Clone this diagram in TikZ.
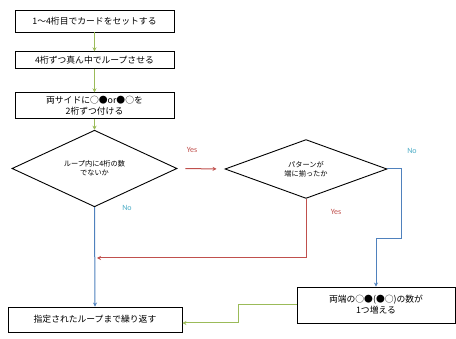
\documentclass[tikz,border=0pt]{standalone}
\usepackage{fontspec}
\setmainfont{Carlito}
\newfontfamily\jp{Noto Sans CJK JP}
\usetikzlibrary{shapes.geometric,arrows.meta}
\definecolor{lgreen}{HTML}{9BBB59}
\definecolor{lred}{HTML}{C0504D}
\definecolor{lblue}{HTML}{4F81BD}
\definecolor{nob}{HTML}{4BACC6}
\tikzset{
  procbox/.style={draw=black, line width=0.9pt, fill=white, rectangle, inner sep=1pt, align=center, font=\jp\fontsize{8.8}{11}\selectfont},
  decbox/.style={draw=black, line width=0.9pt, fill=white, diamond, inner sep=0pt, align=center, font=\jp\fontsize{7.2}{9}\selectfont},
  conn/.style={line width=1pt, -{Stealth[length=4pt,width=4pt]}},
  lbl/.style={font=\fontsize{8}{9}\selectfont, inner sep=0pt}
}
\begin{document}
\begin{tikzpicture}[x=1pt,y=-1pt]
\useasboundingbox (0,0) rectangle (456,339);
\node[procbox, minimum width=159pt, minimum height=22pt] (b1) at (94.5,21) {1〜4桁目でカードをセットする};
\node[procbox, minimum width=159pt, minimum height=16.5pt] (b2) at (94.5,60) {4桁ずつ真ん中でループさせる};
\node[procbox, minimum width=159pt, minimum height=25.5pt] (b3) at (94.5,105.5) {両サイドに○●or●○を\\2桁ずつ付ける};
\node[decbox, minimum width=165pt, minimum height=47pt] (d1) at (94.5,168.5) {ループ内に4桁の数\\でないか};
\node[decbox, minimum width=162pt, minimum height=46pt] (d2) at (306,169) {パターンが\\端に揃ったか};
\node[procbox, minimum width=158pt, minimum height=36pt] (b5) at (376,305) {両端の○●(●○)の数が\\1つ増える};
\node[procbox, minimum width=174pt, minimum height=25pt] (b6) at (95,319.5) {指定されたループまで繰り返す};

\draw[conn, lgreen] (b1) -- (b2);
\draw[conn, lgreen] (b2) -- (b3);
\draw[conn, lgreen] (b3) -- (d1);
\draw[conn, lred, shorten <=8pt, shorten >=8pt] (d1.east) -- (d2.west);
\node[lbl, text=lred] (y1) at (192,150) {Yes};
\coordinate (c1) at (401,169);
\coordinate (c2) at (401,239);
\coordinate (c3) at (376,239);
\draw[conn, lblue] (d2.east) -- (c1) -- (c2) -- (c3) -- (b5.north);
\node[lbl, text=nob] (n2) at (412,151) {No};
\coordinate (r1) at (306,258);
\coordinate (r2) at (97,258);
\draw[conn, lred] (d2.south) -- (r1) -- (r2);
\node[lbl, text=lred] (y2) at (336,212) {Yes};
\draw[conn, lblue] (d1.south) -- (b6.north);
\node[lbl, text=nob] (n1) at (127,208) {No};
\coordinate (g1) at (238,305);
\coordinate (g2) at (238,323);
\draw[conn, lgreen] (b5.west) -- (g1) -- (g2) -- ([yshift=-3.5pt]b6.east);
\end{tikzpicture}
\end{document}
